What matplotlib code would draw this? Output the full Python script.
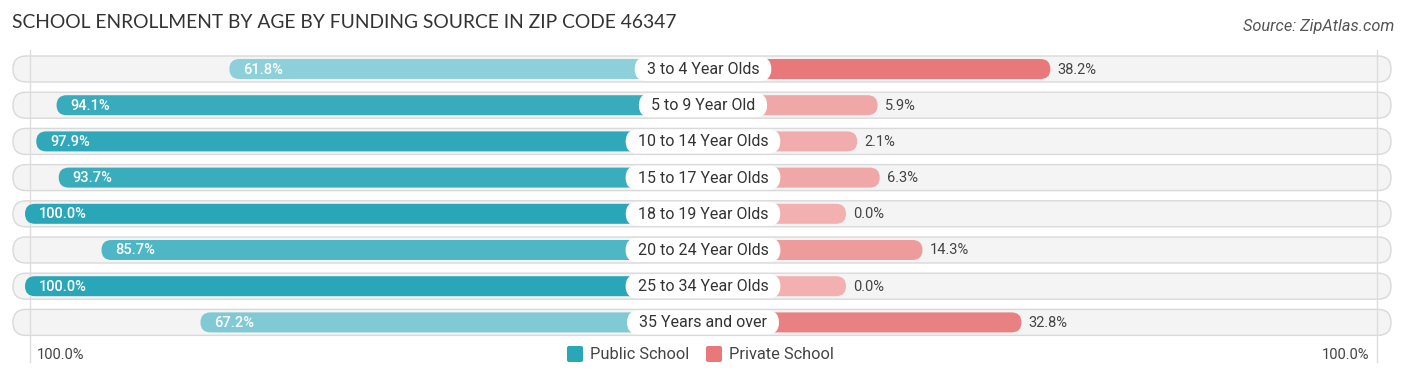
import matplotlib
matplotlib.use("Agg")
import matplotlib.pyplot as plt
from matplotlib.patches import FancyBboxPatch
import numpy as np

categories = ["3 to 4 Year Olds", "5 to 9 Year Old", "10 to 14 Year Olds", "15 to 17 Year Olds",
              "18 to 19 Year Olds", "20 to 24 Year Olds", "25 to 34 Year Olds", "35 Years and over"]
public = [61.8, 94.1, 97.9, 93.7, 100.0, 85.7, 100.0, 67.2]
private = [38.2, 5.9, 2.1, 6.3, 0.0, 14.3, 0.0, 32.8]
series_names = ["Public School", "Private School"]
title = "SCHOOL ENROLLMENT BY AGE BY FUNDING SOURCE IN ZIP CODE 46347"
source = "Source: ZipAtlas.com"
axis_label = "100.0%"

W, H = 1406, 378
fig = plt.figure(figsize=(W / 100, H / 100), dpi=100)
ax = fig.add_axes([0, 0, 1, 1])
ax.set_xlim(0, W)
ax.set_ylim(H, 0)
ax.axis("off")

FONT = "Roboto"
CX = 703
OFF = 143
SCALE = 5.35
ROW0 = 69
STEP = 36.2
BAR_H = 20
PILL_H = 28

pub_dark = np.array([41, 166, 183]) / 255
pub_light = np.array([172, 221, 227]) / 255
pri_dark = np.array([232, 120, 122]) / 255
pri_light = np.array([242, 176, 176]) / 255


def blend(light, dark, t):
    t = min(max(t, 0), 1)
    return tuple(light * (1 - t) + dark * t)


for gx in (30, 1377):
    ax.plot([gx, gx], [50, 362], color="#dddddd", lw=1, zorder=0.5)

label_texts = []
for i, (cat, pv, rv) in enumerate(zip(categories, public, private)):
    y = ROW0 + i * STEP
    ax.add_patch(FancyBboxPatch((13, y - PILL_H / 2 + 1), 1378, PILL_H - 2,
                                boxstyle="round,pad=0,rounding_size=13",
                                fc="#f4f4f4", ec="#d9d9d9", lw=1.0, zorder=0.3))
    lp = OFF + pv * SCALE
    cpub = blend(pub_light, pub_dark, (pv - 50) / 50)
    ax.add_patch(FancyBboxPatch((CX - lp, y - BAR_H / 2), lp, BAR_H,
                                boxstyle="round,pad=0,rounding_size=10",
                                fc=cpub, ec="none", zorder=2))
    lr = OFF + rv * SCALE
    cpri = blend(pri_light, pri_dark, rv / max(private))
    ax.add_patch(FancyBboxPatch((CX, y - BAR_H / 2), lr, BAR_H,
                                boxstyle="round,pad=0,rounding_size=10",
                                fc=cpri, ec="none", zorder=2))
    ax.text(CX - lp + 14, y + 0.5, f"{pv:.1f}%", color="white", fontsize=10.5,
            fontfamily=FONT, fontweight="medium", ha="left", va="center", zorder=4)
    ax.text(CX + lr + 7, y + 0.5, f"{rv:.1f}%", color="#444444", fontsize=10.5,
            fontfamily=FONT, ha="left", va="center", zorder=4)
    t = ax.text(CX, y + 0.5, cat, color="#333333", fontsize=11.5, fontfamily=FONT,
                ha="center", va="center", zorder=5)
    label_texts.append((t, y))

fig.canvas.draw()
renderer = fig.canvas.get_renderer()
for t, y in label_texts:
    bb = t.get_window_extent(renderer)
    w = bb.width + 24
    ax.add_patch(FancyBboxPatch((CX - w / 2, y - 12), w, 24,
                                boxstyle="round,pad=0,rounding_size=12",
                                fc="white", ec="none", zorder=4.5))

ax.text(12, 22, title, fontsize=13.9, fontfamily="Lato", color="#333333", ha="left", va="center")
ax.text(1394, 26, source, fontsize=11.8, fontfamily=FONT, style="italic", color="#555555",
        ha="right", va="center")

ax.text(37, 355, axis_label, fontsize=10.5, fontfamily=FONT, color="#444444", ha="left", va="center")
ax.text(1369, 355, axis_label, fontsize=10.5, fontfamily=FONT, color="#444444", ha="right", va="center")

ax.add_patch(FancyBboxPatch((567, 346), 16, 16, boxstyle="round,pad=0,rounding_size=2",
                            fc=tuple(pub_dark), ec="none"))
ax.text(590, 354.5, series_names[0], fontsize=11.8, fontfamily=FONT, color="#444444",
        ha="left", va="center")
ax.add_patch(FancyBboxPatch((706, 346), 16, 16, boxstyle="round,pad=0,rounding_size=2",
                            fc=tuple(pri_dark), ec="none"))
ax.text(729, 354.5, series_names[1], fontsize=11.8, fontfamily=FONT, color="#444444",
        ha="left", va="center")

fig.savefig("out.png", dpi=100)
